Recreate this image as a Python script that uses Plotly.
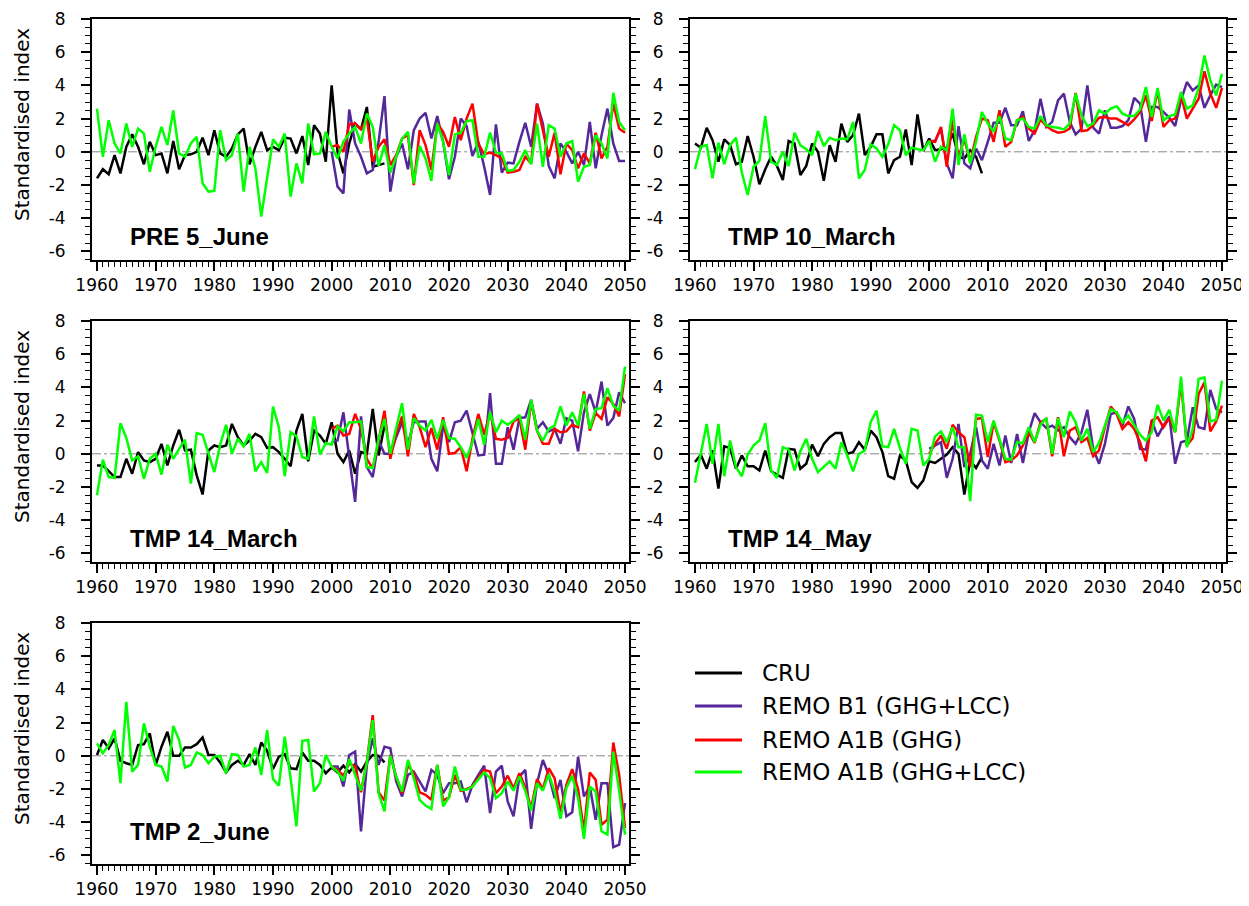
import plotly.graph_objects as go

# ---------------- data ----------------
years_cru = list(range(1960, 2010))
years_lcc = list(range(1960, 2051))
years_scen = list(range(2000, 2051))

panel_titles = ["PRE 5_June", "TMP 10_March", "TMP 14_March", "TMP 14_May", "TMP 2_June"]
series_names = ["CRU", "REMO B1 (GHG+LCC)", "REMO A1B (GHG)", "REMO A1B (GHG+LCC)"]
series_colors = ["#000000", "#55289A", "#FF0000", "#00FF00"]
x_tick_labels = [1960, 1970, 1980, 1990, 2000, 2010, 2020, 2030, 2040, 2050]
y_tick_labels = [-6, -4, -2, 0, 2, 4, 6, 8]

# Panel 1: PRE 5_June
pre5jun_cru = [-1.6, -1.05, -1.35, -0.2, -1.3, 0.3, 1.05, 0.3, -0.75, 0.6,
               -0.2, -0.1, -1.3, 0.65, -1.05, -0.2, -0.15, 0.0, 0.85, -0.2,
               1.3, -0.1, -0.3, 0.2, 1.05, 1.4, -0.75, 0.3, 1.2, 0.1,
               0.3, 0.1, 0.85, 0.8, -0.1, 0.95, -0.8, 1.6, 1.1, -0.6,
               4.0, 0.0, -1.3, 0.5, 1.7, 1.35, 2.7, -0.9, -0.8, -0.7]
pre5jun_b1 = [0.0, -2.1, -2.5, 2.55, 0.5, -0.3, -1.3, -1.1, 0.6, 3.35,
              -2.4, -0.3, 0.5, -1.05, 1.3, 2.0, 2.35, 0.8, 2.15, 0.6,
              -1.65, -0.3, 2.0, 1.55, -0.25, 0.6, -0.9, -2.6, 1.65, -1.25,
              -0.65, -0.7, 0.6, 1.75, 0.3, 2.9, 1.7, -0.85, -1.6, 0.5,
              0.0, -0.7, 0.0, -0.8, 1.8, -1.0, 1.0, 2.6, 0.5, -0.55, -0.55]
pre5jun_a1b = [0.3, 0.4, 0.0, 1.65, 1.7, 1.35, 2.0, -0.6, 0.3, 0.75,
               -0.8, -0.2, 0.8, 1.0, -2.0, 1.3, 0.4, -1.1, 1.7, 1.2,
               0.3, 2.1, 0.7, 2.0, 2.9, 0.5, -0.15, -0.05, -0.2, -0.4,
               -1.25, -1.2, -1.1, -0.3, -0.7, 2.9, 1.3, -0.3, 1.15, -1.35,
               0.5, 0.1, -1.0, -0.1, -0.7, 1.15, -0.4, 0.3, 2.9, 1.4, 1.15]
pre5jun_lcc = [2.6, -0.3, 1.9, 0.5, -0.1, 1.7, 0.3, 1.4, 1.1, -1.2,
               0.3, 1.5, 0.4, 2.5, -0.1, -0.3, 0.5, 0.9, -1.9, -2.4,
               -2.35, 1.3, -0.5, -0.2, 1.1, -2.4, 0.3, -1.0, -3.9, -1.5,
               0.75, 0.3, 1.1, -2.7, -0.7, -1.9, 1.7, -0.15, -0.1, 1.2,
               0.3, -0.4, 0.6, 1.1, 1.5, 0.5, 2.3, 1.5, -0.85, 0.4,
               -1.25, -0.3, 0.8, 1.2, -1.9, 0.35, -0.4, -1.75, 1.7, 0.6,
               -1.4, 1.05, 1.15, 1.85, 1.9, -0.3, -0.3, 1.15, -0.05, -0.1,
               -1.15, -1.1, -0.6, 0.1, -0.75, 1.7, -0.9, 1.6, 1.4, -0.3,
               0.5, 0.65, -1.8, -0.9, -0.8, 1.0, 0.5, -0.4, 3.55, 1.8, 1.3]

# Panel 2: TMP 10_March
tmp10mar_cru = [0.5, 0.25, 1.45, 0.7, -0.6, 0.75, 0.4, -0.75, -0.6, 0.95,
                -0.3, -1.95, -1.05, -0.3, -0.85, -1.7, 0.65, 0.5, -1.4, -0.85,
                0.5, 0.0, -1.75, 0.4, -0.6, 1.7, 0.6, 1.0, 2.3, -0.2,
                0.3, 1.05, 1.05, -1.3, -0.5, -0.3, 1.35, -0.8, 2.25, 0.05,
                0.8, 0.1, 0.15, 0.25, 1.1, -0.3, -0.4, 0.1, -0.3, -1.3]
tmp10mar_b1 = [0.65, 0.65, 1.4, -0.7, -1.6, 1.55, -0.7, -1.0, 0.2, -0.5,
               0.6, 1.75, 1.75, 2.65, 1.6, 1.6, 2.45, 0.65, 1.3, 3.2,
               1.5, 1.8, 3.1, 3.5, 1.8, 1.05, 1.4, 4.0, 1.45, 1.1,
               2.5, 1.45, 1.45, 1.55, 1.9, 3.25, 2.9, 0.6, 2.7, 2.7,
               2.4, 2.05, 1.55, 3.1, 4.2, 3.7, 4.0, 2.65, 3.4, 4.05, 3.9]
tmp10mar_a1b = [0.65, 0.6, 1.5, -0.9, 1.9, -0.3, 0.75, -0.6, 0.9, 2.0,
                1.9, 0.6, 2.5, 0.3, 0.6, 1.9, 2.1, 1.4, 1.1, 1.95,
                1.55, 1.3, 1.15, 1.2, 1.4, 3.55, 1.25, 1.3, 1.6, 2.05,
                2.1, 2.0, 2.0, 1.8, 1.6, 1.95, 2.4, 3.4, 1.85, 3.7,
                1.5, 1.9, 2.0, 3.4, 2.0, 2.6, 3.2, 4.85, 3.5, 2.65, 3.85]
tmp10mar_lcc = [-1.05, 0.3, 0.4, -1.6, 0.55, -0.75, 0.4, 0.85, -1.25, -2.6,
                -0.9, -0.55, 2.15, -0.6, -0.8, 0.0, -0.85, 1.15, 0.4, 0.15,
                -0.2, 1.25, 0.35, 0.85, 0.7, 0.8, 0.75, 1.8, -1.6, -1.1,
                0.45, 0.2, -0.3, 0.45, 1.6, 1.3, -0.2, 0.25, 0.15, 0.1,
                0.65, -0.6, 0.3, 0.1, 2.6, -0.8, 1.05, -0.7, 0.6, 2.4,
                1.7, 1.2, 2.15, 0.8, 0.7, 1.9, 2.0, 1.5, 1.4, 2.15,
                1.6, 1.5, 1.45, 1.35, 1.7, 3.5, 2.2, 1.55, 1.7, 2.5,
                2.3, 2.6, 2.75, 2.3, 2.15, 2.15, 2.55, 3.9, 2.1, 3.85,
                1.9, 2.15, 2.25, 3.6, 2.6, 2.8, 3.85, 5.8, 4.3, 3.4, 4.7]

# Panel 3: TMP 14_March
tmp14mar_cru = [-0.7, -0.7, -1.05, -1.4, -1.4, -0.3, -1.2, 0.1, -0.4, -0.5,
                -0.3, 0.6, -0.7, 0.5, 1.45, 0.2, 0.25, -1.3, -2.45, 0.2,
                0.5, 0.4, 0.5, 1.8, 1.0, 0.5, 0.8, 1.2, 1.0, 0.35,
                0.4, 0.1, -0.3, -0.75, 1.4, 2.4, -0.45, 1.4, 1.1, 0.6,
                1.9, 0.0, -0.5, 0.2, -1.2, 0.1, 0.0, 2.7, -0.1, 1.7]
tmp14mar_b1 = [0.7, 0.8, 2.5, -0.2, -2.9, 2.25, -0.8, -1.4, 0.8, 0.0,
               0.0, 1.0, 1.9, 0.6, 1.9, 1.95, 1.95, -0.3, -1.05, 1.7,
               0.7, 1.9, 2.0, 2.6, 1.3, -0.1, -0.05, 3.65, -0.6, -0.6,
               1.6, 0.25, 2.15, 2.2, 3.25, 1.5, 1.9, 1.35, 1.5, 0.6,
               2.15, 2.0, 0.15, 2.5, 3.6, 2.5, 4.35, 1.7, 2.15, 3.7, 3.05]
tmp14mar_a1b = [1.5, 1.7, 1.1, 1.2, 2.4, 1.5, -0.3, -0.9, 0.8, 2.6,
                -0.3, 1.2, 2.25, -0.15, 2.4, 1.6, 0.4, 1.55, 0.25, 2.2,
                0.0, 0.05, 0.4, -1.05, 0.9, 2.4, 1.15, 2.5, 0.9, 0.85,
                0.95, 1.95, 2.15, 0.25, 3.15, 1.4, 0.6, 0.6, 1.5, 1.3,
                1.35, 1.75, 1.6, 3.75, 1.4, 2.45, 2.1, 3.4, 3.0, 2.25, 4.8]
tmp14mar_lcc = [-2.5, -0.35, -1.4, -1.45, 1.85, 0.95, -0.4, -0.15, -1.5, -0.3,
                0.0, -1.25, 0.55, -0.3, 0.3, 0.85, -1.8, 1.25, 1.15, 0.05,
                -1.1, 0.55, 1.75, 0.0, 0.9, 0.45, 1.2, -1.05, -0.5, -1.15,
                2.85, 1.6, -1.35, 1.3, 1.05, -0.2, -0.3, 2.25, -0.05, 0.65,
                0.55, 1.65, 1.35, 1.9, 1.9, 1.95, -0.8, -0.85, 0.9, 2.1,
                0.0, 1.55, 3.05, 0.25, 2.15, 1.7, 1.4, 2.05, 0.9, 2.05,
                0.95, 0.9, 0.4, -0.25, 0.7, 2.1, 0.55, 2.5, 1.3, 2.0,
                1.75, 2.0, 2.35, 0.85, 3.25, 1.4, 0.8, 1.5, 1.7, 2.85,
                1.7, 2.5, 1.7, 3.6, 1.5, 2.7, 2.75, 3.95, 2.9, 2.6, 5.25]

# Panel 4: TMP 14_May
tmp14may_cru = [-0.5, -0.05, -0.9, 0.2, -2.1, 0.45, 0.35, -0.9, -0.1, -0.75,
                -0.75, -1.0, 0.2, -1.05, -1.25, -1.45, 0.3, 0.25, -0.9, -0.6,
                0.55, -0.15, 0.6, 1.0, 1.25, 1.25, 0.0, 0.1, 0.7, 0.25,
                1.4, 1.0, 0.1, -1.35, -1.5, -0.1, -0.4, -1.7, -2.05, -1.6,
                -0.45, -0.55, -0.3, -0.05, 0.4, 0.0, -2.45, -0.4, -0.85, -0.2]
tmp14may_b1 = [0.3, 0.5, 0.7, -1.45, -0.3, 1.8, -0.8, 0.0, 1.6, -0.4,
               -0.9, 0.6, -0.7, 1.1, -0.55, 1.2, -0.55, 1.3, 2.45, 1.9,
               1.55, 1.7, 1.4, 1.6, 1.0, 0.6, 1.3, 2.65, 0.3, -0.6,
               0.6, 2.4, 2.5, 1.7, 2.85, 2.1, 0.3, 0.25, 2.0, 1.05,
               1.7, 2.25, -0.6, 0.7, 0.8, 2.8, 1.6, 1.5, 3.85, 2.7, 2.5]
tmp14may_a1b = [0.0, 0.6, 1.1, 0.3, 1.75, 1.3, 1.0, -0.8, 2.1, 2.15,
                -0.2, 1.9, 0.8, -0.5, -0.4, -0.1, 0.5, 1.3, 0.65, 1.9,
                2.1, -0.15, 2.2, -0.15, 1.4, 1.6, 0.7, 0.95, -0.15, 0.2,
                1.6, 2.85, 2.4, 1.5, 1.9, 1.5, 0.7, -0.45, 2.0, 2.2,
                1.6, 2.15, 1.3, 4.3, 0.5, 0.95, 3.6, 4.3, 1.35, 1.95, 2.9]
tmp14may_lcc = [-1.75, -0.05, 1.8, -0.6, 1.8, -1.35, 0.8, -0.8, -1.35, -0.05,
                0.5, 0.8, 1.85, -1.0, -1.45, 0.4, 0.25, -1.0, 0.15, 0.9,
                -0.3, -1.1, -0.75, -0.45, -0.9, 0.7, -0.1, -1.05, 0.0, 0.2,
                1.9, 2.6, 0.45, 0.4, 1.5, 0.35, -0.6, 1.5, 1.4, -0.7,
                -0.3, 1.05, 1.35, 0.7, 1.6, 0.4, 0.4, -2.85, 2.35, 2.3,
                0.7, 2.0, 0.9, -0.3, -0.35, 0.7, 0.65, 1.6, 0.7, 1.75,
                2.15, 0.0, 2.15, 1.0, 2.55, 1.9, 0.8, 1.5, 0.1, 0.65,
                1.7, 2.7, 2.5, 1.9, 2.3, 1.7, 1.15, 0.8, 1.3, 2.95,
                2.0, 2.65, 1.3, 4.65, 0.4, 1.5, 4.5, 4.6, 1.95, 2.05, 4.4]

# Panel 5: TMP 2_June
tmp2jun_cru = [0.05, 0.95, 0.45, 1.05, -0.3, -0.45, -0.55, 0.65, 0.7, 1.35,
               -0.55, 0.55, 1.45, 0.0, 0.0, 0.5, 0.5, 0.7, 1.1, 0.05,
               0.05, -0.4, -1.0, -0.55, -0.3, -0.55, 0.1, -0.55, 0.8, 0.3,
               -0.8, -0.05, 0.1, -0.75, -0.8, 0.2, -0.3, -0.3, -0.55, -1.05,
               -0.7, -1.0, -0.6, -1.0, -0.5, -0.95, -0.35, 0.05, 0.0, -0.4]
tmp2jun_b1 = [-0.65, -0.65, -1.85, 0.05, 0.25, -4.55, -0.55, 1.05, -0.55, 0.55,
              0.45, -1.55, -2.45, -1.15, -0.95, -1.55, -2.15, -0.85, -1.15, -2.25,
              -1.65, -1.65, -1.55, -2.8, -1.75, -1.15, -0.6, -3.45, -0.95, -0.6,
              -2.75, -3.65, -1.25, -0.85, -4.4, -1.65, -0.25, -1.15, -2.55, -1.45,
              -3.65, -3.4, -0.05, -2.45, -1.85, -3.85, -1.65, -1.65, -5.5, -5.35, -2.85]
tmp2jun_a1b = [-0.65, -0.85, -1.2, -0.45, -0.65, -2.2, -0.35, 2.45, -2.2, -2.7,
               0.05, -1.25, -2.25, -0.55, -1.05, -2.2, -2.35, -2.65, -0.55, -2.7,
               -2.5, -1.15, -2.1, -2.0, -1.85, -1.3, -0.85, -0.95, -2.25, -1.85,
               -1.2, -1.95, -1.05, -1.9, -3.15, -1.4, -2.0, -0.75, -1.35, -3.45,
               -1.75, -0.8, -2.0, -4.55, -1.0, -1.45, -4.15, -3.85, 0.8, -1.15, -4.35]
tmp2jun_lcc = [0.75, 0.15, 0.65, 1.55, -1.65, 3.25, -0.95, -0.55, 1.95, 0.55,
               -0.55, -0.65, -1.55, 1.8, 0.95, -0.7, -0.55, 0.2, 0.05, -0.45,
               -0.05, 0.0, -1.05, 0.1, 0.05, -0.65, -0.55, 0.5, -1.15, 1.55,
               -1.4, -1.8, 1.15, -1.35, -4.25, 0.9, 0.95, -2.15, -1.65, 0.05,
               -0.65, -0.95, -1.5, -0.2, -1.15, -2.1, -0.4, 2.15, -2.25, -3.35,
               0.0, -1.25, -2.15, -0.25, -1.35, -2.65, -3.0, -3.2, -0.55, -3.05,
               -2.5, -0.65, -2.05, -2.05, -1.85, -1.45, -1.0, -1.35, -2.55, -2.25,
               -1.55, -2.1, -1.25, -2.1, -3.3, -1.65, -2.1, -1.1, -2.15, -3.8,
               -1.95, -1.2, -2.55, -5.0, -1.85, -2.15, -4.55, -4.75, 0.25, -2.1, -4.75]

panels = [
    (pre5jun_cru, pre5jun_b1, pre5jun_a1b, pre5jun_lcc),
    (tmp10mar_cru, tmp10mar_b1, tmp10mar_a1b, tmp10mar_lcc),
    (tmp14mar_cru, tmp14mar_b1, tmp14mar_a1b, tmp14mar_lcc),
    (tmp14may_cru, tmp14may_b1, tmp14may_a1b, tmp14may_lcc),
    (tmp2jun_cru, tmp2jun_b1, tmp2jun_a1b, tmp2jun_lcc),
]
series_years = [years_cru, years_scen, years_scen, years_lcc]

# ---------------- layout geometry (pixels, in page coordinates) ----------------
OFF = 8                      # default page body margin
W, H = 1249 - OFF - 3, 906 - 2 * OFF


def px(xp):
    return (xp - OFF) / W


def py(yp):
    return 1 - (yp - OFF) / H


# (left, right, top, bottom) of each plot frame in page pixels
frames = [
    (92, 629, 19, 259.7),
    (690, 1226, 19, 259.7),
    (92, 629, 321, 561.7),
    (690, 1226, 321, 561.7),
    (92, 629, 623, 863.7),
]
label_offsets = [217.7, 217.7, 217.7, 217.7, 208]

FONT = "DejaVu Sans"

fig = go.Figure()
layout = dict(
    width=W, height=H, margin=dict(l=0, r=0, t=0, b=0, autoexpand=False),
    paper_bgcolor="white", plot_bgcolor="white", showlegend=False,
    font=dict(family=FONT, color="black"),
)
annotations = []
shapes = []

for i, (vals, frame) in enumerate(zip(panels, frames)):
    n = i + 1
    xa = "x" if n == 1 else f"x{n}"
    ya = "y" if n == 1 else f"y{n}"
    l, r, t, b = frame
    for yrs, v, name, col in zip(series_years, vals, series_names, series_colors):
        fig.add_trace(go.Scatter(x=yrs, y=v, mode="lines", name=name,
                                 line=dict(color=col, width=2.5),
                                 xaxis=xa, yaxis=ya, showlegend=False))
    axis_common = dict(showgrid=False, zeroline=False, showline=True, automargin=False,
                       linecolor="black", linewidth=2, ticks="outside",
                       tickcolor="black", tickwidth=1.5, ticklen=9,
                       ticklabeloverflow="allow",
                       tickfont=dict(family=FONT, size=17, color="black"))
    layout["xaxis" if n == 1 else f"xaxis{n}"] = dict(
        axis_common, domain=[px(l), px(r)], range=[1959.15, 2050.68],
        tickmode="array", tickvals=x_tick_labels,
        ticktext=[str(v) for v in x_tick_labels], mirror=True,
        minor=dict(ticks="outside", dtick=1, ticklen=5, tickwidth=1, tickcolor="black"),
        anchor=ya)
    layout["yaxis" if n == 1 else f"yaxis{n}"] = dict(
        axis_common, domain=[py(b), py(t)], range=[-6.5, 8],
        tickmode="array", tickvals=y_tick_labels,
        ticktext=[str(v) for v in y_tick_labels], mirror="ticks",
        ticklabelstandoff=12,
        minor=dict(ticks="outside", dtick=0.5, ticklen=5, tickwidth=1, tickcolor="black"),
        anchor=xa)
    shapes.append(dict(type="line", xref=f"{xa} domain", yref=ya, x0=0, x1=1, y0=0, y1=0,
                       line=dict(color="#888888", width=1, dash="dashdot"), layer="below"))
    annotations.append(dict(text=f"<b>{panel_titles[i]}</b>", xref="paper", yref="paper",
                            x=px(l + 36), y=py(t + label_offsets[i]),
                            xanchor="left", yanchor="middle", showarrow=False,
                            font=dict(family="Liberation Sans", size=24, color="black")))
    if l < 300:
        annotations.append(dict(text="Standardised index", xref="paper", yref="paper",
                                x=px(22), y=py(t + 106), textangle=-90,
                                xanchor="center", yanchor="middle", showarrow=False,
                                font=dict(family=FONT, size=20, color="black")))

# manual legend
leg_rows = [673, 706, 740, 772]
for name, col, yrow in zip(series_names, series_colors, leg_rows):
    shapes.append(dict(type="line", xref="paper", yref="paper",
                       x0=px(695), x1=px(742), y0=py(yrow), y1=py(yrow),
                       line=dict(color=col, width=3)))
    annotations.append(dict(text=name, xref="paper", yref="paper", x=px(760),
                            y=py(yrow), xanchor="left", yanchor="middle",
                            showarrow=False, font=dict(family=FONT, size=23, color="black")))

layout["annotations"] = annotations
layout["shapes"] = shapes
fig.update_layout(**layout)
fig.write_html("out.html")
